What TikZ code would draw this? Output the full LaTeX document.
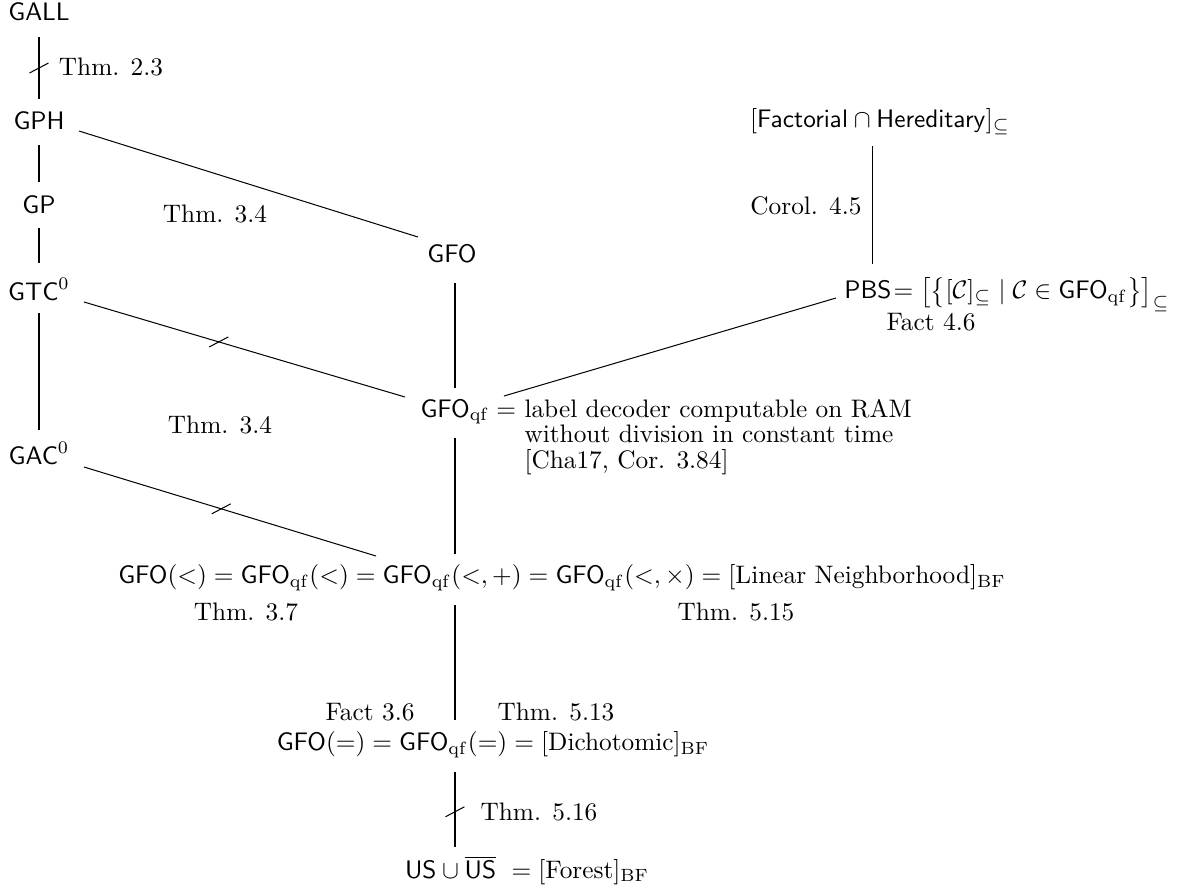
\documentclass[tikz,border=0pt]{standalone}
\usepackage{amsmath,amssymb}
\usetikzlibrary{calc}
\begin{document}
\begin{tikzpicture}[x=0.395pt,y=-0.395pt,
  every node/.style={inner sep=0pt, outer sep=0pt},
  cls/.style={},
  lbl/.style={},
  ln/.style={line width=0.4pt},
  slash/.style={line width=0.4pt}]
\useasboundingbox (0,0) rectangle (1184,892);
% class nodes
\node[cls] (gall) at (39,12) {$\mathsf{GALL}$};
\node[cls] (gph) at (39,121) {$\mathsf{GPH}$};
\node[cls] (gp) at (39,205) {$\mathsf{GP}$};
\node[cls] (gtc) at (39,289) {$\mathsf{GTC}^0$};
\node[cls] (gac) at (39,453) {$\mathsf{GAC}^0$};
\node[cls] (gfo) at (452,254) {$\mathsf{GFO}$};
\node[cls] (gfoqf) at (455,412) {$\mathsf{GFO}_{\mathrm{qf}}$};
\node[lbl, anchor=base west] (gfoqfr) at ($(gfoqf.base east)+(7,0)$) {$=$\ \renewcommand{\arraystretch}{0.8}\begin{tabular}[t]{@{}l@{}}label decoder computable on RAM\\ without division in constant time\\ {[Cha17, Cor. 3.84]}\end{tabular}};
\node[cls] (fact) at (880,122) {$[\mathsf{Factorial}\cap\mathsf{Hereditary}]_{\subseteq}$};
\node[cls] (pbs) at (868,290) {$\mathsf{PBS}$};
\node[cls, anchor=base west] (pbsr) at ($(pbs.base east)+(2,0)$) {$= \bigl[\bigl\{[\mathcal{C}]_{\subseteq} \mid \mathcal{C}\in\mathsf{GFO}_{\mathrm{qf}}\bigr\}\bigr]_{\subseteq}$};
\node[cls] (row1) at (562,578) {$\mathsf{GFO}(<) = \mathsf{GFO}_{\mathrm{qf}}(<) = \mathsf{GFO}_{\mathrm{qf}}(<,+) = \mathsf{GFO}_{\mathrm{qf}}(<,\times) = [\text{Linear Neighborhood}]_{\mathrm{BF}}$};
\node[cls] (row2) at (493,745) {$\mathsf{GFO}(=) = \mathsf{GFO}_{\mathrm{qf}}(=) = [\text{Dichotomic}]_{\mathrm{BF}}$};
\node[cls] (bot) at (527,870) {$\mathsf{US}\cup\overline{\mathsf{US}}\ = [\text{Forest}]_{\mathrm{BF}}$};
% labels
\node[lbl] (l1) at (111,67) {Thm. 2.3};
\node[lbl] (l2) at (215,214) {Thm. 3.4};
\node[lbl] (l3) at (220,425) {Thm. 3.4};
\node[lbl] (l4) at (806,206) {Corol. 4.5};
\node[lbl] (l5) at (931,322) {Fact 4.6};
\node[lbl] (l6) at (246,612) {Thm. 3.7};
\node[lbl] (l7) at (736,612) {Thm. 5.15};
\node[lbl] (l8) at (370,712) {Fact 3.6};
\node[lbl] (l9) at (556,712) {Thm. 5.13};
\node[lbl] (l10) at (539,812) {Thm. 5.16};
% connectors
\draw[ln] ($(gall)+(0,25)$) -- coordinate[pos=0.5] (s1) ($(gph)+(0,-22)$);
\draw[slash] (s1) ++(-9.5,5) -- ++(19,-10);
\draw[ln] ($(gph)+(0,24)$) -- ($(gp)+(0,-23)$);
\draw[ln] ($(gp)+(0,23)$) -- ($(gtc)+(0,-26)$);
\draw[ln] ($(gtc)+(0,24)$) -- ($(gac)+(0,-23)$);
\draw[ln] ($(gph)+(40,10)$) -- ($(gfo)+(-34,-17)$);
\draw[ln] ($(gtc)+(45,13)$) -- coordinate[pos=0.42] (s2) ($(gfoqf)+(-50,-15)$);
\draw[slash] (s2) ++(-9.5,5) -- ++(19,-10);
\draw[ln] ($(gac)+(45,14)$) -- coordinate[pos=0.47] (s3) ($(gfoqf|-row1)+(-79,-22)$);
\draw[slash] (s3) ++(-9.5,5) -- ++(19,-10);
\draw[ln] ($(gfoqf|-gfo)+(0,29)$) -- ($(gfoqf)+(0,-24)$);
\draw[ln] ($(gfoqf)+(0,26)$) -- ($(gfoqf|-row1)+(0,-24)$);
\draw[ln] ($(gfoqf)+(49,-16)$) -- ($(pbs)+(-32,8)$);
\draw[ln] ($(pbs|-fact)+(4,24)$) -- ($(pbs)+(4,-26)$);
\draw[ln] ($(gfoqf|-row1)+(0,27)$) -- ($(gfoqf|-row2)+(0,-25)$);
\draw[ln] ($(gfoqf|-row2)+(0,27)$) -- coordinate[pos=0.53] (s4) ($(gfoqf|-bot)+(0,-23)$);
\draw[slash] (s4) ++(-9.5,5) -- ++(19,-10);
\end{tikzpicture}
\end{document}
